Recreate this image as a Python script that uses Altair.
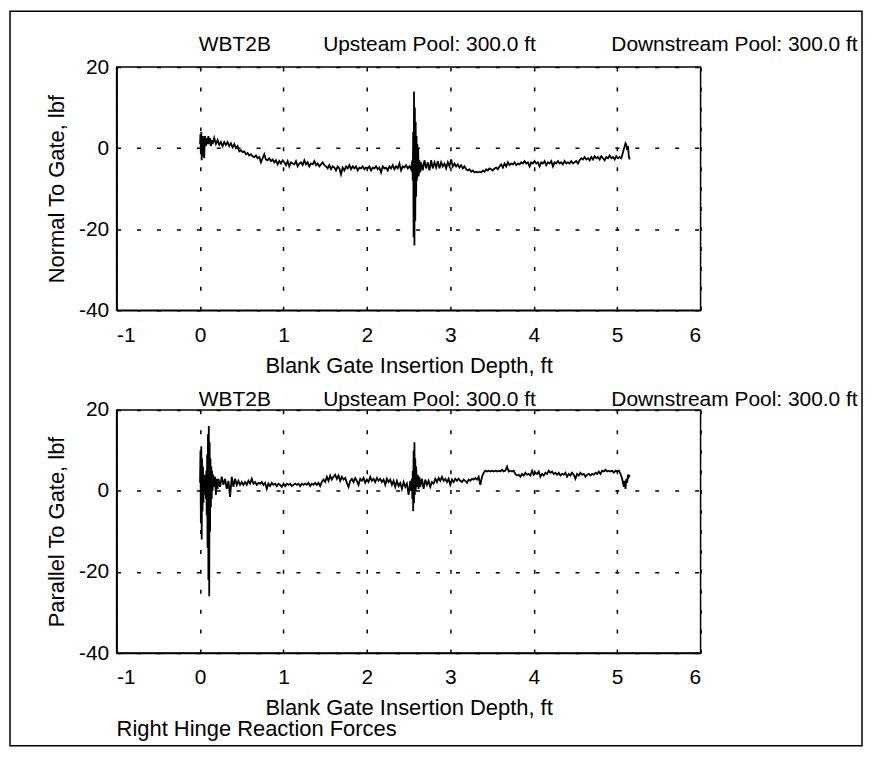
import altair as alt
import pandas as pd

FONT = "Liberation Sans"
NB = "\u00a0"

# ---------------- data ----------------
depth_normal = [
    0.00, 0.005, 0.01, 0.015, 0.02, 0.025, 0.03, 0.035, 0.04, 0.045, 0.05, 0.055, 0.06, 0.07, 0.08, 0.09,
    0.10, 0.11, 0.12, 0.13, 0.14, 0.15, 0.17, 0.19, 0.21, 0.23, 0.25, 0.27, 0.29, 0.31, 0.33, 0.35,
    0.37, 0.39, 0.41, 0.43, 0.45, 0.47, 0.49, 0.51, 0.53, 0.55, 0.57, 0.59, 0.61, 0.63, 0.65, 0.67,
    0.69, 0.71, 0.73, 0.75, 0.77, 0.79, 0.81, 0.83, 0.85, 0.87, 0.89, 0.91, 0.93, 0.95, 0.97, 0.99,
    1.01, 1.03, 1.05, 1.07, 1.09, 1.11, 1.13, 1.15, 1.17, 1.19, 1.21, 1.23, 1.25, 1.27, 1.29, 1.31,
    1.33, 1.35, 1.37, 1.39, 1.41, 1.43, 1.45, 1.47, 1.49, 1.51, 1.53, 1.55, 1.57, 1.59, 1.61, 1.63,
    1.65, 1.67, 1.69, 1.71, 1.73, 1.75, 1.77, 1.79, 1.81, 1.83, 1.85, 1.87, 1.89, 1.91, 1.93, 1.95,
    1.97, 1.99, 2.01, 2.03, 2.05, 2.07, 2.09, 2.11, 2.13, 2.15, 2.17, 2.19, 2.21, 2.23, 2.25, 2.27,
    2.29, 2.31, 2.33, 2.35, 2.37, 2.39, 2.41, 2.43, 2.45, 2.47, 2.49, 2.51, 2.53, 2.545, 2.55, 2.555,
    2.56, 2.565, 2.57, 2.575, 2.58, 2.585, 2.59, 2.595, 2.60, 2.605, 2.61, 2.615, 2.62, 2.63, 2.64, 2.65,
    2.67, 2.69, 2.71, 2.73, 2.75, 2.77, 2.79, 2.81, 2.83, 2.85, 2.87, 2.89, 2.91, 2.93, 2.95, 2.97,
    2.99, 3.01, 3.03, 3.05, 3.07, 3.09, 3.11, 3.13, 3.15, 3.17, 3.19, 3.21, 3.23, 3.25, 3.27, 3.29,
    3.31, 3.33, 3.35, 3.37, 3.39, 3.41, 3.43, 3.45, 3.47, 3.49, 3.51, 3.53, 3.55, 3.57, 3.59, 3.61,
    3.63, 3.65, 3.67, 3.69, 3.71, 3.73, 3.75, 3.77, 3.79, 3.81, 3.83, 3.85, 3.87, 3.89, 3.91, 3.93,
    3.95, 3.97, 3.99, 4.01, 4.03, 4.05, 4.07, 4.09, 4.11, 4.13, 4.15, 4.17, 4.19, 4.21, 4.23, 4.25,
    4.27, 4.29, 4.31, 4.33, 4.35, 4.37, 4.39, 4.41, 4.43, 4.45, 4.47, 4.49, 4.51, 4.53, 4.55, 4.57,
    4.59, 4.61, 4.63, 4.65, 4.67, 4.69, 4.71, 4.73, 4.75, 4.77, 4.79, 4.81, 4.83, 4.85, 4.87, 4.89,
    4.91, 4.93, 4.95, 4.97, 4.99, 5.01, 5.03, 5.05, 5.07, 5.09, 5.10, 5.11, 5.12, 5.13, 5.14, 5.15,
]
force_normal = [
    1.0, 3.5, -1.5, 4.0, -3.0, 2.5, -2.0, 3.0, -1.0, 2.0, -2.5, 1.5, 3.0, 0.5, 2.5, 1.0,
    3.0, 1.0, 2.5, 0.5, 2.0, 1.0, 2.5, 1.0, 2.0, 0.8, 1.5, 0.5, 1.5, 0.8, 1.5, 0.5,
    1.2, 0.2, 1.0, 0.0, 0.5, -0.8, -0.5, -1.0, -0.8, -1.5, -1.2, -1.8, -1.5, -2.0, -2.2, -1.8,
    -2.5, -2.2, -3.5, -2.5, -1.5, -2.8, -3.0, -2.5, -3.2, -2.8, -3.5, -3.0, -4.0, -3.2, -3.8, -3.0,
    -3.5, -4.2, -3.2, -4.5, -3.5, -3.8, -4.0, -3.2, -4.5, -3.8, -3.5, -4.2, -3.0, -4.0, -3.5, -4.5,
    -3.8, -4.0, -3.2, -4.2, -3.8, -4.5, -4.0, -3.5, -4.2, -4.5, -5.0, -4.2, -5.2, -4.5, -4.8, -5.5,
    -4.5, -5.0, -6.5, -4.8, -5.5, -4.5, -5.0, -4.2, -5.2, -4.5, -5.0, -4.5, -5.5, -4.8, -5.0, -4.5,
    -5.2, -4.8, -5.0, -4.5, -5.5, -4.8, -5.0, -4.5, -5.2, -4.8, -6.0, -4.5, -5.0, -4.8, -5.5, -4.5,
    -5.0, -4.2, -5.2, -4.5, -5.0, -3.8, -5.5, -4.5, -4.8, -4.2, -5.0, -4.5, -5.2, -3.0, -8.0, 4.0,
    -22.0, 14.0, -24.0, 10.0, -18.0, 6.5, -12.0, 3.0, -8.0, 1.0, -6.0, 0.0, -7.0, -3.0, -6.0, -3.5,
    -5.5, -3.0, -5.0, -3.5, -5.5, -3.0, -5.0, -3.5, -4.8, -3.2, -5.0, -3.5, -4.5, -3.8, -5.0, -3.5,
    -4.5, -2.8, -4.5, -3.8, -4.5, -4.0, -4.8, -4.2, -5.0, -4.5, -5.2, -5.5, -5.2, -5.8, -5.5, -6.0,
    -5.8, -6.0, -5.8, -6.0, -5.5, -5.8, -5.2, -5.5, -5.0, -5.2, -5.5, -5.0, -4.8, -5.2, -4.5, -4.0,
    -4.8, -3.8, -4.5, -3.5, -4.2, -3.8, -4.0, -3.5, -4.2, -3.8, -4.0, -3.5, -3.8, -3.2, -3.8, -3.5,
    -4.5, -3.5, -3.8, -3.2, -3.8, -3.5, -4.5, -3.5, -3.8, -3.2, -4.2, -3.5, -3.8, -3.2, -4.5, -3.5,
    -3.8, -3.2, -3.8, -3.5, -4.0, -3.2, -3.8, -3.5, -3.8, -3.2, -3.8, -3.5, -3.2, -3.8, -3.0, -2.5,
    -2.8, -2.2, -2.8, -2.5, -3.0, -2.2, -2.8, -2.0, -2.5, -2.2, -2.8, -2.0, -2.5, -3.0, -2.2, -2.5,
    -1.8, -2.5, -2.2, -2.8, -2.0, -2.5, -2.2, -2.5, -1.0, 0.5, 1.2, 0.8, -0.5, 0.5, -2.0, -2.8,
]

depth_parallel = [
    0.00, 0.005, 0.01, 0.015, 0.02, 0.025, 0.03, 0.035, 0.04, 0.045, 0.05, 0.055, 0.06, 0.065, 0.07, 0.075,
    0.08, 0.085, 0.09, 0.095, 0.10, 0.105, 0.11, 0.115, 0.12, 0.125, 0.13, 0.135, 0.14, 0.145, 0.15, 0.16,
    0.17, 0.18, 0.19, 0.20, 0.21, 0.22, 0.24, 0.26, 0.28, 0.30, 0.32, 0.34, 0.36, 0.38, 0.40, 0.42,
    0.44, 0.46, 0.48, 0.50, 0.52, 0.54, 0.56, 0.58, 0.60, 0.62, 0.64, 0.66, 0.68, 0.70, 0.72, 0.74,
    0.76, 0.78, 0.80, 0.82, 0.84, 0.86, 0.88, 0.90, 0.92, 0.94, 0.96, 0.98, 1.00, 1.02, 1.04, 1.06,
    1.08, 1.10, 1.12, 1.14, 1.16, 1.18, 1.20, 1.22, 1.24, 1.26, 1.28, 1.30, 1.32, 1.34, 1.36, 1.38,
    1.40, 1.42, 1.44, 1.46, 1.48, 1.50, 1.52, 1.54, 1.56, 1.58, 1.60, 1.62, 1.64, 1.66, 1.68, 1.70,
    1.72, 1.74, 1.76, 1.78, 1.80, 1.82, 1.84, 1.86, 1.88, 1.90, 1.92, 1.94, 1.96, 1.98, 2.00, 2.02,
    2.04, 2.06, 2.08, 2.10, 2.12, 2.14, 2.16, 2.18, 2.20, 2.22, 2.24, 2.26, 2.28, 2.30, 2.32, 2.34,
    2.36, 2.38, 2.40, 2.42, 2.44, 2.46, 2.48, 2.50, 2.52, 2.53, 2.54, 2.545, 2.55, 2.555, 2.56, 2.565,
    2.57, 2.575, 2.58, 2.585, 2.59, 2.60, 2.61, 2.62, 2.63, 2.64, 2.66, 2.68, 2.70, 2.72, 2.74, 2.76,
    2.78, 2.80, 2.82, 2.84, 2.86, 2.88, 2.90, 2.92, 2.94, 2.96, 2.98, 3.00, 3.02, 3.04, 3.06, 3.08,
    3.10, 3.12, 3.14, 3.16, 3.18, 3.20, 3.22, 3.24, 3.26, 3.28, 3.30, 3.32, 3.34, 3.36, 3.38, 3.40,
    3.42, 3.44, 3.46, 3.48, 3.50, 3.52, 3.54, 3.56, 3.58, 3.60, 3.62, 3.64, 3.66, 3.68, 3.70, 3.72,
    3.74, 3.76, 3.78, 3.80, 3.82, 3.84, 3.86, 3.88, 3.90, 3.92, 3.94, 3.96, 3.98, 4.00, 4.02, 4.04,
    4.06, 4.08, 4.10, 4.12, 4.14, 4.16, 4.18, 4.20, 4.22, 4.24, 4.26, 4.28, 4.30, 4.32, 4.34, 4.36,
    4.38, 4.40, 4.42, 4.44, 4.46, 4.48, 4.50, 4.52, 4.54, 4.56, 4.58, 4.60, 4.62, 4.64, 4.66, 4.68,
    4.70, 4.72, 4.74, 4.76, 4.78, 4.80, 4.82, 4.84, 4.86, 4.88, 4.90, 4.92, 4.94, 4.96, 4.98, 5.00,
    5.02, 5.04, 5.06, 5.08, 5.09, 5.10, 5.11, 5.12, 5.13, 5.14, 5.15,
]
force_parallel = [
    2.0, 10.0, -8.0, 11.0, -12.0, 8.0, -5.0, 6.0, -3.0, 4.0, -1.0, 3.0, 0.0, 4.0, -2.0, 5.0,
    -6.0, 9.0, -14.0, 14.0, -22.0, 16.0, -26.0, 12.0, -10.0, 8.0, -4.0, 6.0, -2.0, 5.0, 0.0, 4.0,
    1.0, 3.5, -1.0, 3.0, 0.5, 3.0, 1.0, 3.5, 1.5, 3.0, 0.5, 2.5, -1.5, 3.5, 1.0, 3.0,
    1.5, 2.5, 1.5, 2.2, 1.5, 2.2, 1.5, 2.5, 1.8, 3.0, 1.8, 2.2, 1.5, 2.0, 1.8, 2.2,
    1.5, 2.0, 0.5, 1.8, 1.2, 2.0, 1.5, 1.8, 1.2, 1.8, 1.5, 1.0, 1.8, 1.2, 1.8, 1.5,
    1.8, 1.2, 1.5, 1.8, 1.5, 1.8, 1.2, 1.8, 1.5, 1.8, 1.5, 2.0, 1.2, 1.8, 1.5, 2.0,
    1.5, 2.0, 1.2, 2.2, 2.8, 2.2, 3.5, 2.5, 3.8, 2.8, 3.5, 4.0, 3.0, 3.8, 2.5, 3.5,
    2.8, 3.2, 2.0, 1.0, 2.5, 3.0, 2.2, 3.2, 2.5, 1.5, 3.0, 2.5, 3.2, 2.0, 2.8, 2.2,
    3.5, 2.5, 3.0, 2.2, 3.2, 2.5, 3.0, 2.2, 2.8, 1.5, 3.0, 2.2, 2.8, 1.5, 2.5, 1.0,
    2.5, 1.2, 2.0, 0.5, 2.2, 1.0, 1.8, -1.0, 2.5, 0.0, 3.0, -2.0, 5.0, -5.0, 10.0, -3.0,
    12.0, -1.0, 8.0, 0.0, 6.0, 1.0, 4.0, 0.5, 3.5, 1.0, 3.0, 0.5, 2.8, 1.5, 2.5, 1.0,
    2.2, 1.8, 3.0, 2.2, 3.2, 2.5, 3.5, 2.5, 3.0, 2.2, 3.0, 1.5, 2.8, 2.2, 3.0, 2.5,
    3.0, 2.5, 2.2, 2.8, 2.5, 2.0, 2.8, 2.5, 3.0, 2.8, 3.2, 2.8, 3.5, 1.5, 3.5, 4.5,
    5.0, 4.8, 5.0, 4.8, 5.0, 4.8, 5.0, 4.8, 5.0, 4.8, 5.2, 4.8, 5.0, 6.0, 4.8, 5.0,
    4.8, 5.0, 4.2, 3.8, 4.0, 3.5, 4.2, 3.8, 4.5, 4.0, 4.2, 3.8, 5.0, 4.0, 4.5, 4.2,
    4.8, 3.5, 4.2, 3.8, 4.5, 4.2, 5.0, 4.5, 4.8, 4.2, 4.5, 4.0, 4.5, 3.8, 4.2, 4.0,
    4.5, 3.5, 4.2, 3.8, 4.5, 4.0, 3.0, 4.2, 3.8, 4.5, 4.0, 4.2, 3.5, 4.0, 4.2, 3.8,
    4.2, 4.0, 4.5, 4.2, 4.8, 4.2, 5.0, 4.8, 5.2, 4.8, 5.0, 4.8, 5.0, 4.5, 5.0, 4.8,
    5.0, 4.2, 3.0, 1.0, 2.5, 0.5, 3.0, 2.0, 4.0, 3.5, 4.0,
]

x_ticks = [-1, 0, 1, 2, 3, 4, 5, 6]
y_ticks = [-40, -20, 0, 20]
x_domain = [-1, 6]
y_domain = [-40, 20]

header = ("WBT2B" + NB * 9 + "Upsteam Pool: 300.0 ft" + NB * 13 +
          "Downstream Pool: 300.0 ft")
x_title = "Blank Gate Insertion Depth, ft"
y_titles = ["Normal To Gate, lbf", "Parallel To Gate, lbf"]
caption = "Right Hinge Reaction Forces"

W, H = 586, 244


def panel(xs, ys, ytitle, header_y):
    df = pd.DataFrame({"depth": xs, "force": ys})
    xscale = alt.Scale(domain=x_domain, nice=False, zero=False)
    yscale = alt.Scale(domain=y_domain, nice=False, zero=False)
    line = alt.Chart(df).mark_line(color="black", strokeWidth=1.8, clip=True).encode(
        x=alt.X("depth:Q", scale=xscale,
                axis=alt.Axis(values=x_ticks, title=x_title, labelPadding=14,
                              titlePadding=10, labelExpr="'' + datum.value")),
        y=alt.Y("force:Q", scale=yscale,
                axis=alt.Axis(values=y_ticks, title=ytitle, labelPadding=8,
                              titlePadding=10, labelExpr="'' + datum.value")),
    )
    head = alt.Chart(df).mark_line(opacity=0).encode(
        x=alt.X("depth:Q", scale=xscale,
                axis=alt.Axis(orient="top", title=header, labels=False, ticks=False,
                              domain=False, grid=False, titleX=82, titleY=header_y,
                              titleAlign="left", titleBaseline="alphabetic",
                              titleFontSize=21)),
    )
    return alt.layer(line, head).resolve_axis(x="independent")


# outer border of the figure (decoration), drawn in the top panel
frame_df = pd.DataFrame({"k": [0]})
frame = alt.Chart(frame_df).mark_rect(fillOpacity=0, stroke="black", strokeWidth=1.5).encode(
    x=alt.value(-107), x2=alt.value(748), y=alt.value(-56), y2=alt.value(681)
)

top = alt.layer(panel(depth_normal, force_normal, y_titles[0], -17), frame).properties(
    width=W, height=H)

bottom = panel(depth_parallel, force_parallel, y_titles[1], -4).properties(
    width=W, height=H,
    title=alt.TitleParams(caption, orient="bottom", anchor="start", frame="group", offset=0),
)

chart = alt.vconcat(top, bottom, spacing=100, bounds="flush").properties(
    padding={"left": 0, "top": 0, "right": 0, "bottom": 0}
).configure(background="white").configure_view(
    stroke="black", strokeWidth=1.5
).configure_axis(
    domainColor="black", domainWidth=1.5, gridColor="black", gridDash=[4, 16],
    gridWidth=1.5, gridOpacity=1, tickSize=0, labelFont=FONT, labelFontSize=21,
    labelColor="black", titleFont=FONT, titleFontSize=22, titleFontWeight="normal",
    titleColor="black",
).configure_title(font=FONT, fontSize=22, fontWeight="normal", color="black")

chart.save("out.html", embed_options={"renderer": "svg", "actions": False})
